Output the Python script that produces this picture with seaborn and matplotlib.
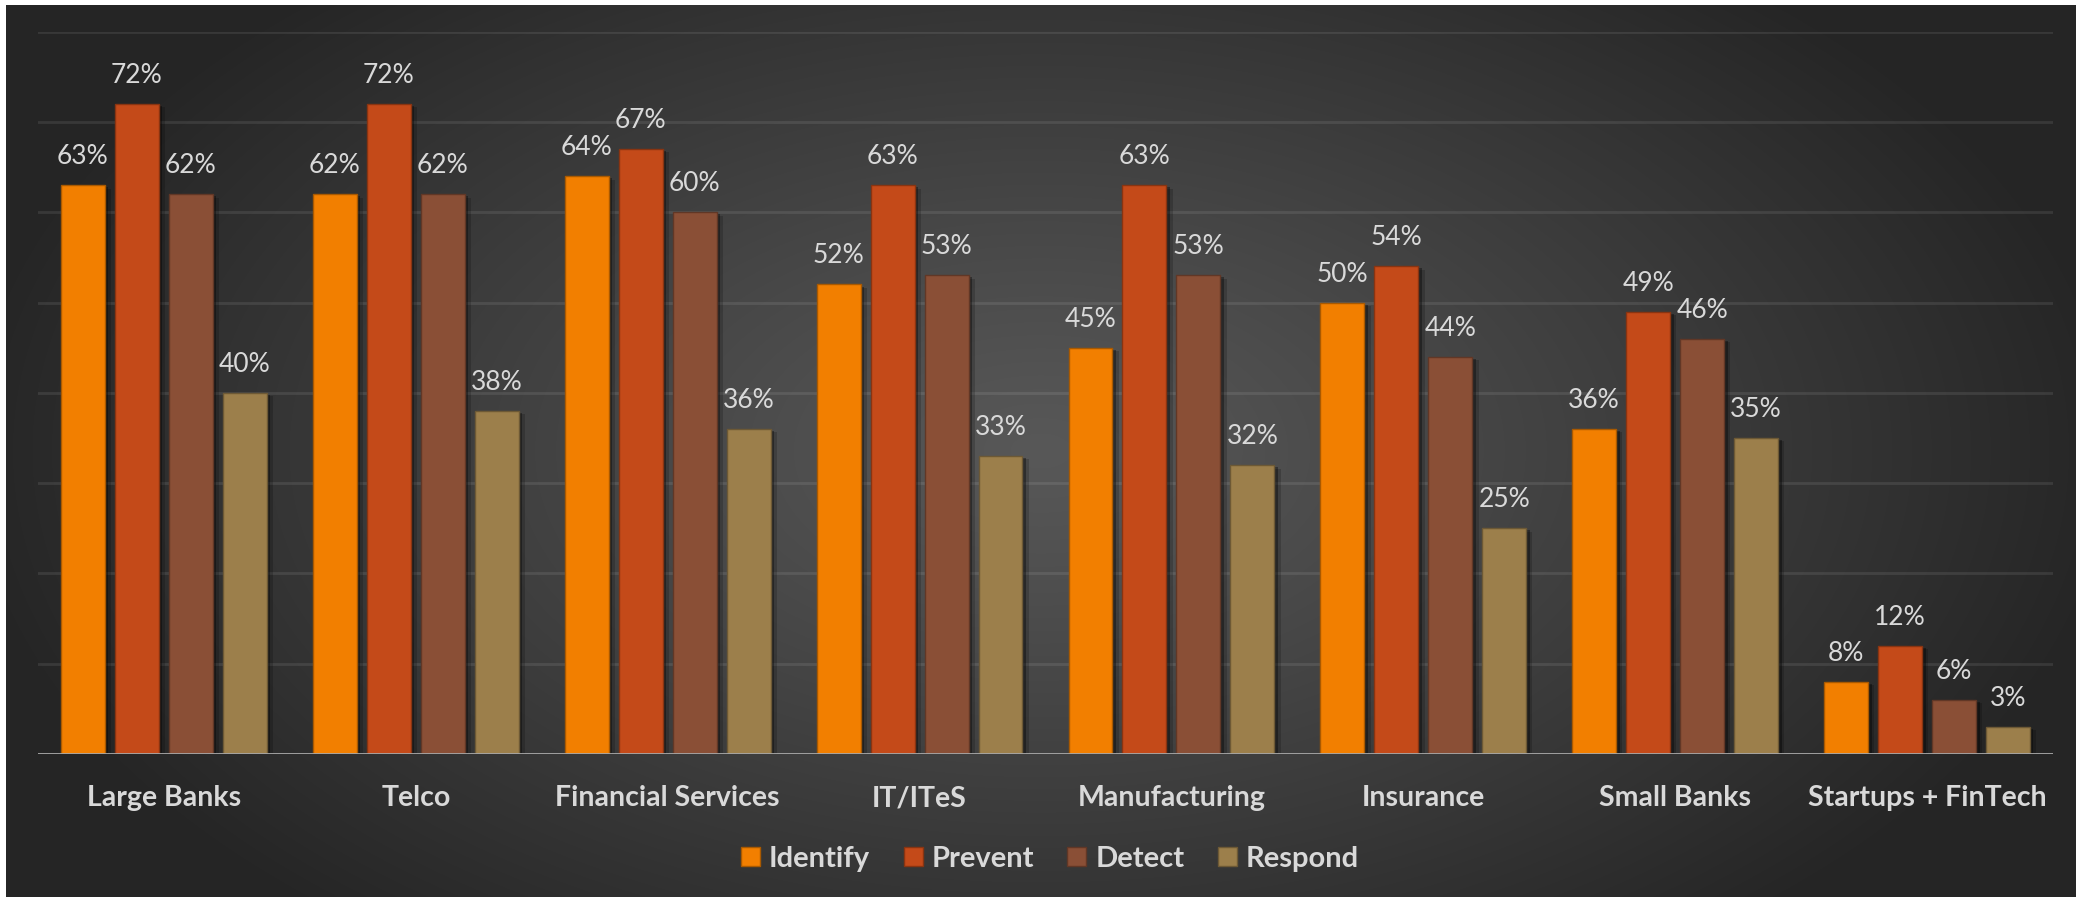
import numpy as np
import pandas as pd
import matplotlib
matplotlib.use("Agg")
import matplotlib.pyplot as plt
import matplotlib.patheffects as pe
from matplotlib.patches import Patch
from matplotlib.colors import to_rgb
import seaborn as sns

categories = ["Large Banks", "Telco", "Financial Services", "IT/ITeS",
              "Manufacturing", "Insurance", "Small Banks", "Startups + FinTech"]
series = ["Identify", "Prevent", "Detect", "Respond"]
identify = [63, 62, 64, 52, 45, 50, 36, 8]
prevent = [72, 72, 67, 63, 63, 54, 49, 12]
detect = [62, 62, 60, 53, 53, 44, 46, 6]
respond = [40, 38, 36, 33, 32, 25, 35, 3]
colors = ["#F27F00", "#C44A19", "#8A4F36", "#9C7F4B"]

values = [identify, prevent, detect, respond]
df = pd.DataFrame({
    "category": categories * len(series),
    "series": np.repeat(series, len(categories)),
    "value": np.concatenate(values),
})

plt.rcParams["font.family"] = ["Lato", "DejaVu Sans"]
TEXT = "#d9d9d9"

W, H = 2077, 899
fig = plt.figure(figsize=(W / 100, H / 100), dpi=100, facecolor="white")

# dark radial backdrop
bx0, bx1, by_top, by_bot = 6, 2076, 5, 897
bg = fig.add_axes([bx0 / W, (H - by_bot) / H, (bx1 - bx0) / W, (by_bot - by_top) / H])
nx, ny = bx1 - bx0, by_bot - by_top
xx, yy = np.meshgrid(np.linspace(-1, 1, nx), np.linspace(-1, 1, ny))
r = np.sqrt(xx ** 2 + (yy * 0.75) ** 2)
r = np.clip(r / 1.05, 0, 1)
shade = (0x58 - (0x58 - 0x25) * r ** 1.1) / 255.0
bg.imshow(np.dstack([shade] * 3), aspect="auto", interpolation="bilinear")
bg.set_axis_off()

# main chart area
left, right = 38, 2053
base_y, top_y = 754, 754 - 722.4
ax = fig.add_axes([left / W, (H - base_y) / H, (right - left) / W, (base_y - top_y) / H])
ax.set_facecolor("none")

sns.barplot(data=df, x="category", y="value", hue="series", hue_order=series,
            order=categories, palette=colors, saturation=1, width=0.857, gap=0.185,
            legend=False, ax=ax, zorder=2)

shadow = [pe.SimplePatchShadow(offset=(2.5, -1.5), shadow_rgbFace="black", alpha=0.35),
          pe.SimplePatchShadow(offset=(4.5, -2.5), shadow_rgbFace="black", alpha=0.18),
          pe.Normal()]
for cont, col, vals in zip(ax.containers, colors, values):
    edge = tuple(c * 0.7 for c in to_rgb(col))
    for bar in cont:
        bar.set_edgecolor(edge)
        bar.set_linewidth(1.0)
        bar.set_path_effects(shadow)
    ax.bar_label(cont, labels=[f"{v}%" for v in vals], padding=11.5,
                 color=TEXT, fontsize=19)

ax.set_ylim(0, 80)
ax.set_yticks(np.arange(0, 81, 10))
ax.yaxis.grid(True, color="white", alpha=0.09, lw=2)
ax.xaxis.grid(False)
ax.set_axisbelow(True)
ax.axhline(0, color="#a8a8a8", lw=2, zorder=3)
for s in ax.spines.values():
    s.set_visible(False)
ax.tick_params(axis="y", left=False, labelleft=False)
ax.tick_params(axis="x", length=0, pad=22.5, labelsize=20.5, labelcolor=TEXT)
for t in ax.get_xticklabels():
    t.set_fontweight("bold")
ax.set_xlabel("")
ax.set_ylabel("")

handles = [Patch(facecolor=c, edgecolor=tuple(v * 0.7 for v in to_rgb(c)), label=s)
           for c, s in zip(colors, series)]
fig.legend(handles=handles, loc="center", bbox_to_anchor=(1050 / W, 1 - 859 / H),
           ncol=4, frameon=False, handlelength=0.65, handleheight=0.6,
           handletextpad=0.3, columnspacing=1.15,
           prop={"size": 21, "weight": "bold"}, labelcolor=TEXT)

fig.savefig("out.png", dpi=100, facecolor="white")
